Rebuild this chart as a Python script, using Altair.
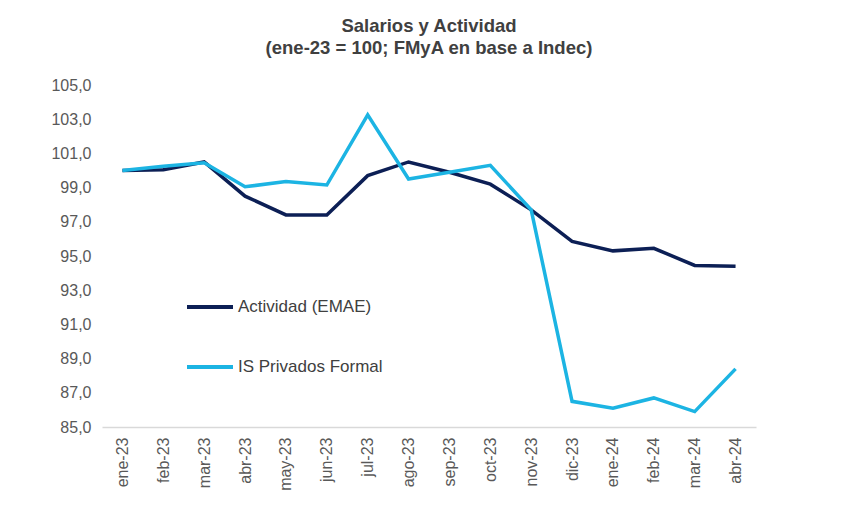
import altair as alt
import pandas as pd

months = ["ene-23", "feb-23", "mar-23", "abr-23", "may-23", "jun-23", "jul-23",
          "ago-23", "sep-23", "oct-23", "nov-23", "dic-23", "ene-24", "feb-24",
          "mar-24", "abr-24"]

actividad = [100.0, 100.05, 100.5, 98.5, 97.4, 97.4, 99.7, 100.5, 99.9, 99.2,
             97.7, 95.85, 95.3, 95.45, 94.45, 94.4]
salarios = [100.0, 100.25, 100.45, 99.05, 99.35, 99.15, 103.25, 99.5, 99.9, 100.3,
            97.7, 86.5, 86.1, 86.7, 85.9, 88.4]

series_names = ["Actividad (EMAE)", "IS Privados Formal"]
series_colors = ["#0c1f55", "#1cb4e3"]

y_ticks = [85, 87, 89, 91, 93, 95, 97, 99, 101, 103, 105]

rows = []
for m, v in zip(months, actividad):
    rows.append({"mes": m, "valor": v, "serie": series_names[0]})
for m, v in zip(months, salarios):
    rows.append({"mes": m, "valor": v, "serie": series_names[1]})
df = pd.DataFrame(rows)

chart = alt.Chart(df).mark_line(strokeWidth=3.5).encode(
    x=alt.X("mes:N", sort=months, title=None,
            scale=alt.Scale(paddingInner=0, paddingOuter=0.5),
            axis=alt.Axis(labelAngle=-90, labelFontSize=16, labelColor="#595959",
                          labelFont="Liberation Sans", ticks=False, domain=True,
                          domainColor="#d9d9d9", domainWidth=1.5, labelPadding=10,
                          grid=False, labelBaseline="middle", labelAlign="right")),
    y=alt.Y("valor:Q", title=None,
            scale=alt.Scale(domain=[85, 105], nice=False, zero=False),
            axis=alt.Axis(values=y_ticks, labelExpr="replace(format(datum.value, '.1f'), '.', ',')",
                          labelFontSize=16, labelColor="#595959", labelFont="Liberation Sans",
                          ticks=False, domain=False, grid=False, labelPadding=11)),
    color=alt.Color("serie:N",
                    scale=alt.Scale(domain=series_names, range=series_colors),
                    legend=alt.Legend(title=None, orient="none", legendX=83, legendY=197,
                                      symbolType="stroke", symbolSize=2116,
                                      symbolStrokeWidth=4, labelFontSize=17,
                                      labelColor="#404040", labelFont="Liberation Sans",
                                      rowPadding=27, labelOffset=3)),
).properties(
    width=654,
    height=342,
    title=alt.Title(["Salarios y Actividad", "(ene-23 = 100; FMyA en base a Indec)"],
                    fontSize=18.5, font="Liberation Sans", fontWeight="bold",
                    color="#404040", lineHeight=22, offset=20, anchor="middle"),
    padding={"left": 42, "top": 8, "right": 10, "bottom": 5},
).configure_view(stroke=None)

chart.save("out.html", embed_options={"renderer": "svg", "actions": False})
